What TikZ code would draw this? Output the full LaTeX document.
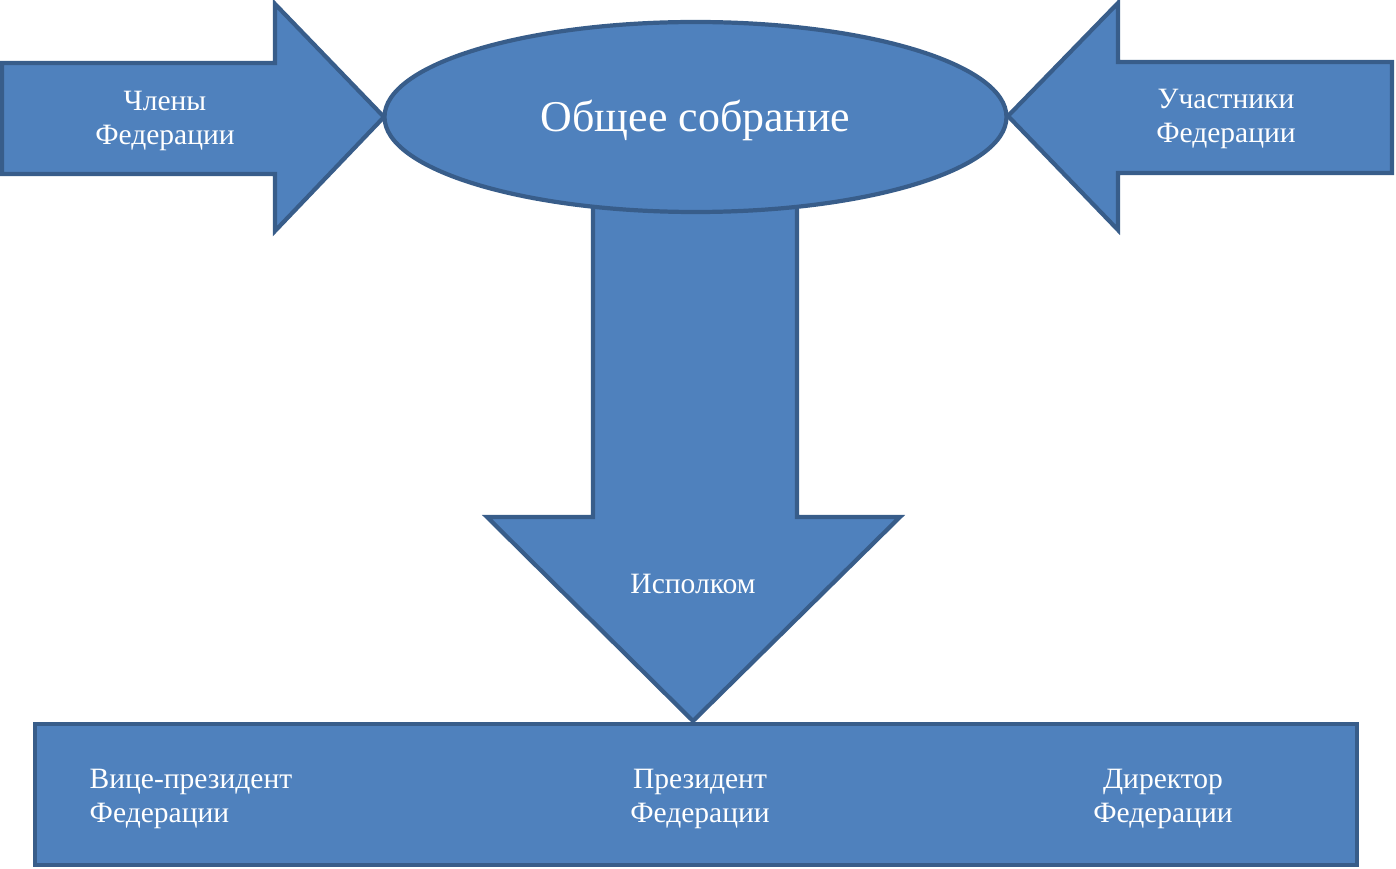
\documentclass[tikz,border=0pt]{standalone}
\usepackage{fontspec}
\setmainfont{Liberation Serif}
\usepackage{tikz}
\usetikzlibrary{shapes.geometric}

\definecolor{blockfill}{HTML}{4F81BD}
\definecolor{blockline}{HTML}{385D8A}

\begin{document}
\begin{tikzpicture}[x=1cm,y=1cm]
        \tikzset{block/.style={draw=blockline, fill=blockfill, line width=1.2pt, line join=miter},
                 label/.style={text=white, font=\fontsize{8.4}{9.7}\selectfont, align=center, inner sep=0pt}}
        \useasboundingbox (0,0) rectangle (13.96,-8.69);

	%---ARROWS---
        % from the left
        \draw[block] (0.02,-0.63) -- (2.75,-0.63) -- (2.75,-0.04) -- (3.84,-1.17) -- (2.75,-2.31) -- (2.75,-1.74) -- (0.02,-1.74) -- cycle;
        % from the right
        \draw[block] (13.92,-0.62) -- (11.18,-0.62) -- (11.18,-0.03) -- (10.08,-1.16) -- (11.18,-2.30) -- (11.18,-1.73) -- (13.92,-1.73) -- cycle;
        % down
        \draw[block] (5.93,-1.90) -- (7.97,-1.90) -- (7.97,-5.17) -- (9.00,-5.17) -- (6.93,-7.21) -- (4.87,-5.17) -- (5.93,-5.17) -- cycle;

	%---NODES---
        \node[block, ellipse, minimum width=6.22cm, minimum height=1.90cm, inner sep=0pt] (sobranie) at (6.955,-1.17) {};
        \node[block, rectangle, minimum width=13.22cm, minimum height=1.41cm, inner sep=0pt] (rukovodstvo) at (6.96,-7.945) {};

	%---LABELS---
        \node[label, font=\fontsize{12.5}{15}\selectfont] (obshchee) at (6.955,-1.20) {Общее собрание};
        \node[label] (chleny) at (1.65,-1.21) {Члены\\Федерации};
        \node[label] (uchastniki) at (12.26,-1.19) {Участники\\Федерации};
        \node[label] (ispolkom) at (6.93,-5.84) {Исполком};
        \node[label, align=left, anchor=west] (vice) at (0.89,-7.99) {Вице-президент\\Федерации};
        \node[label] (prezident) at (7.00,-7.99) {Президент\\Федерации};
        \node[label] (direktor) at (11.63,-7.99) {Директор\\Федерации};

    \end{tikzpicture}
\end{document}
